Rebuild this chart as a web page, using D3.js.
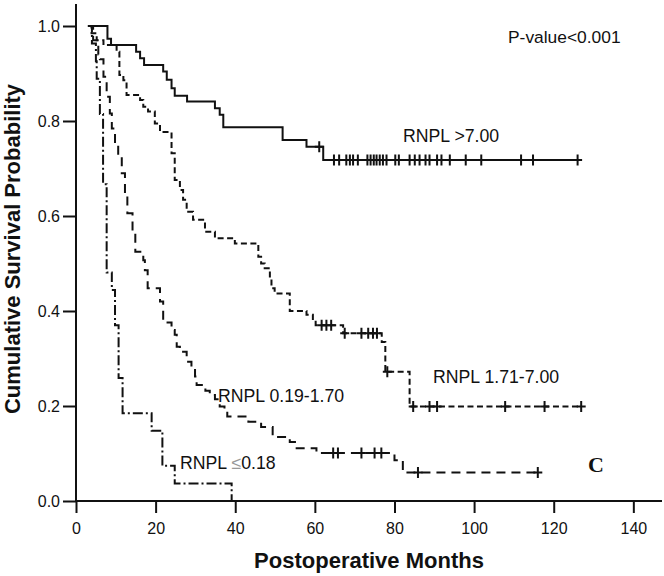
<!DOCTYPE html>
<html><head><meta charset="utf-8">
<script src="https://cdn.jsdelivr.net/npm/d3@7"></script>
<style>body{margin:0;background:#fff} svg{display:block}</style>
</head><body>
<svg id="chart" width="664" height="576"></svg>
<script>
// ---------- data ----------
const xTicks = [0, 20, 40, 60, 80, 100, 120, 140];
const yTicks = [0.0, 0.2, 0.4, 0.6, 0.8, 1.0];
const xTitle = "Postoperative Months";
const yTitle = "Cumulative Survival Probability";
const pText = "P-value<0.001";
const panelLetter = "C";

// RNPL >7.00 (solid)
const highTimes = [3, 7.9, 8.8, 15.1, 16.1, 17.1, 21.9, 22.8, 24.0, 24.8, 27.9, 34.9, 36.1, 37.0, 51.9, 57.9, 62.1];
const highSurv  = [1.0, 0.973, 0.96, 0.946, 0.932, 0.918, 0.904, 0.887, 0.869, 0.853, 0.841, 0.827, 0.813, 0.787, 0.76, 0.746, 0.718];
const highCensor = [61.1, 64.8, 66.1, 67.9, 68.8, 69.6, 70.8, 73.2, 74.0, 74.8, 75.5, 76.3, 77.1, 78.0, 80.2, 81.1,
                    83.8, 85.1, 86.3, 87.8, 88.8, 90.7, 91.8, 93.9, 97.9, 101.8, 111.8, 114.8, 126.0];
const highEnd = 126.0;

// RNPL 1.71-7.00 (short dashes)
const midHiTimes = [3, 3.9, 5.2, 6.9, 10.2, 10.9, 11.9, 12.7, 16.1, 16.9, 18.1, 19.8, 21.1, 24.0, 24.8, 26.1, 26.9,
                    27.8, 29.4, 32.4, 34.9, 39.9, 45.8, 46.5, 47.4, 48.7, 49.1, 49.9, 53.7, 57.9, 59.5, 60.2, 67.1, 76.8, 77.7, 83.8];
const midHiSurv  = [1.0, 0.985, 0.97, 0.96, 0.946, 0.897, 0.886, 0.855, 0.844, 0.83, 0.82, 0.795, 0.777, 0.732, 0.676, 0.655, 0.634,
                    0.609, 0.592, 0.567, 0.553, 0.542, 0.514, 0.50, 0.49, 0.469, 0.448, 0.437, 0.40, 0.392, 0.383, 0.37, 0.353, 0.335, 0.272, 0.199];
const midHiCensor = [61.7, 62.9, 64.1, 67.5, 71.7, 73.4, 74.6, 75.6, 78.2, 84.7, 88.8, 90.7, 107.8, 117.7, 126.9];
const midHiEnd = 126.9;

// RNPL 0.19-1.70 (long dashes)
const midLoTimes = [3, 4.3, 5.2, 5.6, 6.0, 6.9, 7.7, 8.5, 9.0, 9.8, 10.6, 11.5, 12.3, 12.9, 14.2, 14.9, 16.9, 17.3, 18.0,
                    21.1, 21.9, 24.0, 24.8, 25.3, 26.1, 27.8, 29.0, 29.9, 30.3, 32.5, 33.6, 34.9, 36.1, 37.3, 38.0,
                    43.3, 46.5, 49.4, 53.7, 55.0, 60.4, 80.0, 82.1];
const midLoSurv  = [1.0, 0.97, 0.96, 0.94, 0.93, 0.893, 0.851, 0.816, 0.784, 0.753, 0.725, 0.69, 0.648, 0.606, 0.563, 0.525, 0.507, 0.486, 0.448,
                    0.42, 0.376, 0.36, 0.35, 0.325, 0.314, 0.293, 0.283, 0.262, 0.244, 0.232, 0.223, 0.214, 0.199, 0.19, 0.178,
                    0.167, 0.156, 0.135, 0.124, 0.111, 0.101, 0.086, 0.06];
const midLoCensor = [64.6, 65.8, 71.7, 75.0, 76.7, 85.9, 116.0];
const midLoEnd = 116.0;

// RNPL <=0.18 (dash-dot)
const lowTimes = [3, 4.0, 5.0, 5.2, 6.0, 6.8, 7.7, 9.0, 9.8, 10.7, 11.7, 19.0, 21.7, 24.8, 39.1];
const lowSurv  = [1.0, 0.963, 0.926, 0.889, 0.815, 0.667, 0.481, 0.444, 0.37, 0.259, 0.185, 0.148, 0.074, 0.037, 0.0];
const lowCensor = [];
const lowEnd = 39.1;

// ---------- drawing ----------
const svg = d3.select("#chart");
const x = d3.scaleLinear().domain([0, 147.2]).range([76, 662]);
const y = d3.scaleLinear().domain([0, 1]).range([501, 26]);
const ink = "#111";
const font = "Liberation Sans, Arial, sans-serif";

svg.append("rect").attr("width", 664).attr("height", 576).attr("fill", "#fff");

// axes
const xAxis = d3.axisBottom(x).tickValues(xTicks).tickSize(12).tickFormat(d3.format("d"));
const gx = svg.append("g").attr("transform", `translate(0,${y(0)})`).call(xAxis);
gx.select(".domain").attr("d", `M${x(0)},0H662`).attr("stroke", ink).attr("stroke-width", 2);
gx.selectAll(".tick line").attr("stroke", ink).attr("stroke-width", 2);
gx.selectAll(".tick text").attr("font-family", font).attr("font-size", 16)
  .attr("fill", ink).attr("dy", null).attr("y", 33);

const yAxis = d3.axisLeft(y).tickValues(yTicks).tickSize(13).tickFormat(d3.format(".1f"));
const gy = svg.append("g").attr("transform", `translate(${x(0)},0)`).call(yAxis);
gy.select(".domain").attr("d", `M0,4V${y(0)}`).attr("stroke", ink).attr("stroke-width", 2);
gy.selectAll(".tick line").attr("stroke", ink).attr("stroke-width", 2);
gy.selectAll(".tick text").attr("font-family", font).attr("font-size", 16)
  .attr("fill", ink).attr("x", -16).attr("dy", "0.36em");

// titles
svg.append("text").attr("x", 369).attr("y", 568).attr("text-anchor", "middle")
  .attr("font-family", font).attr("font-weight", "bold").attr("font-size", 22)
  .attr("fill", ink).text(xTitle);
svg.append("text").attr("transform", "translate(20,249) rotate(-90)").attr("text-anchor", "middle")
  .attr("font-family", font).attr("font-weight", "bold").attr("font-size", 22)
  .attr("fill", ink).text(yTitle);

// curves
const groups = [
  {times: highTimes, surv: highSurv, censor: highCensor, end: highEnd, dash: null},
  {times: midHiTimes, surv: midHiSurv, censor: midHiCensor, end: midHiEnd, dash: "6,3.5"},
  {times: midLoTimes, surv: midLoSurv, censor: midLoCensor, end: midLoEnd, dash: "9,6"},
  {times: lowTimes, surv: lowSurv, censor: lowCensor, end: lowEnd, dash: "10,3,2,3"}
];
const line = d3.line().x(d => x(d[0])).y(d => y(d[1])).curve(d3.curveStepAfter);

groups.forEach(g => {
  const pts = g.times.map((t, i) => [t, g.surv[i]]);
  pts.push([g.end, g.surv[g.surv.length - 1]]);
  svg.append("path").attr("d", line(pts)).attr("fill", "none").attr("stroke", ink)
    .attr("stroke-width", 2).attr("stroke-dasharray", g.dash);
  const level = t => { let s = g.surv[0]; g.times.forEach((tt, i) => { if (tt <= t) s = g.surv[i]; }); return s; };
  g.censor.forEach(c => {
    const cx = x(c), cy = y(level(c));
    svg.append("path").attr("d", `M${cx},${cy - 5.5}V${cy + 5.5}M${cx - 4.5},${cy}H${cx + 4.5}`)
      .attr("stroke", ink).attr("stroke-width", 2).attr("fill", "none");
  });
});

// annotations
const ann = (tx, ty, str, fs) => svg.append("text").attr("x", tx).attr("y", ty).attr("font-family", font)
  .attr("font-size", fs).attr("fill", ink).text(str);
ann(508, 43, pText, 17.4);
ann(403, 142, "RNPL >7.00", 17.7);
ann(433, 383, "RNPL 1.71-7.00", 17.7);
ann(218, 402, "RNPL 0.19-1.70", 17.7);
const lowLab = svg.append("text").attr("x", 180).attr("y", 469).attr("font-family", font)
  .attr("font-size", 17.7).attr("fill", ink);
lowLab.append("tspan").text("RNPL ");
lowLab.append("tspan").attr("fill", "#999").text("≤");
lowLab.append("tspan").text("0.18");
svg.append("text").attr("x", 588).attr("y", 472).attr("font-family", "Liberation Serif, Times New Roman, serif")
  .attr("font-weight", "bold").attr("font-size", 22).attr("fill", ink).text(panelLetter);
</script>
</body></html>
